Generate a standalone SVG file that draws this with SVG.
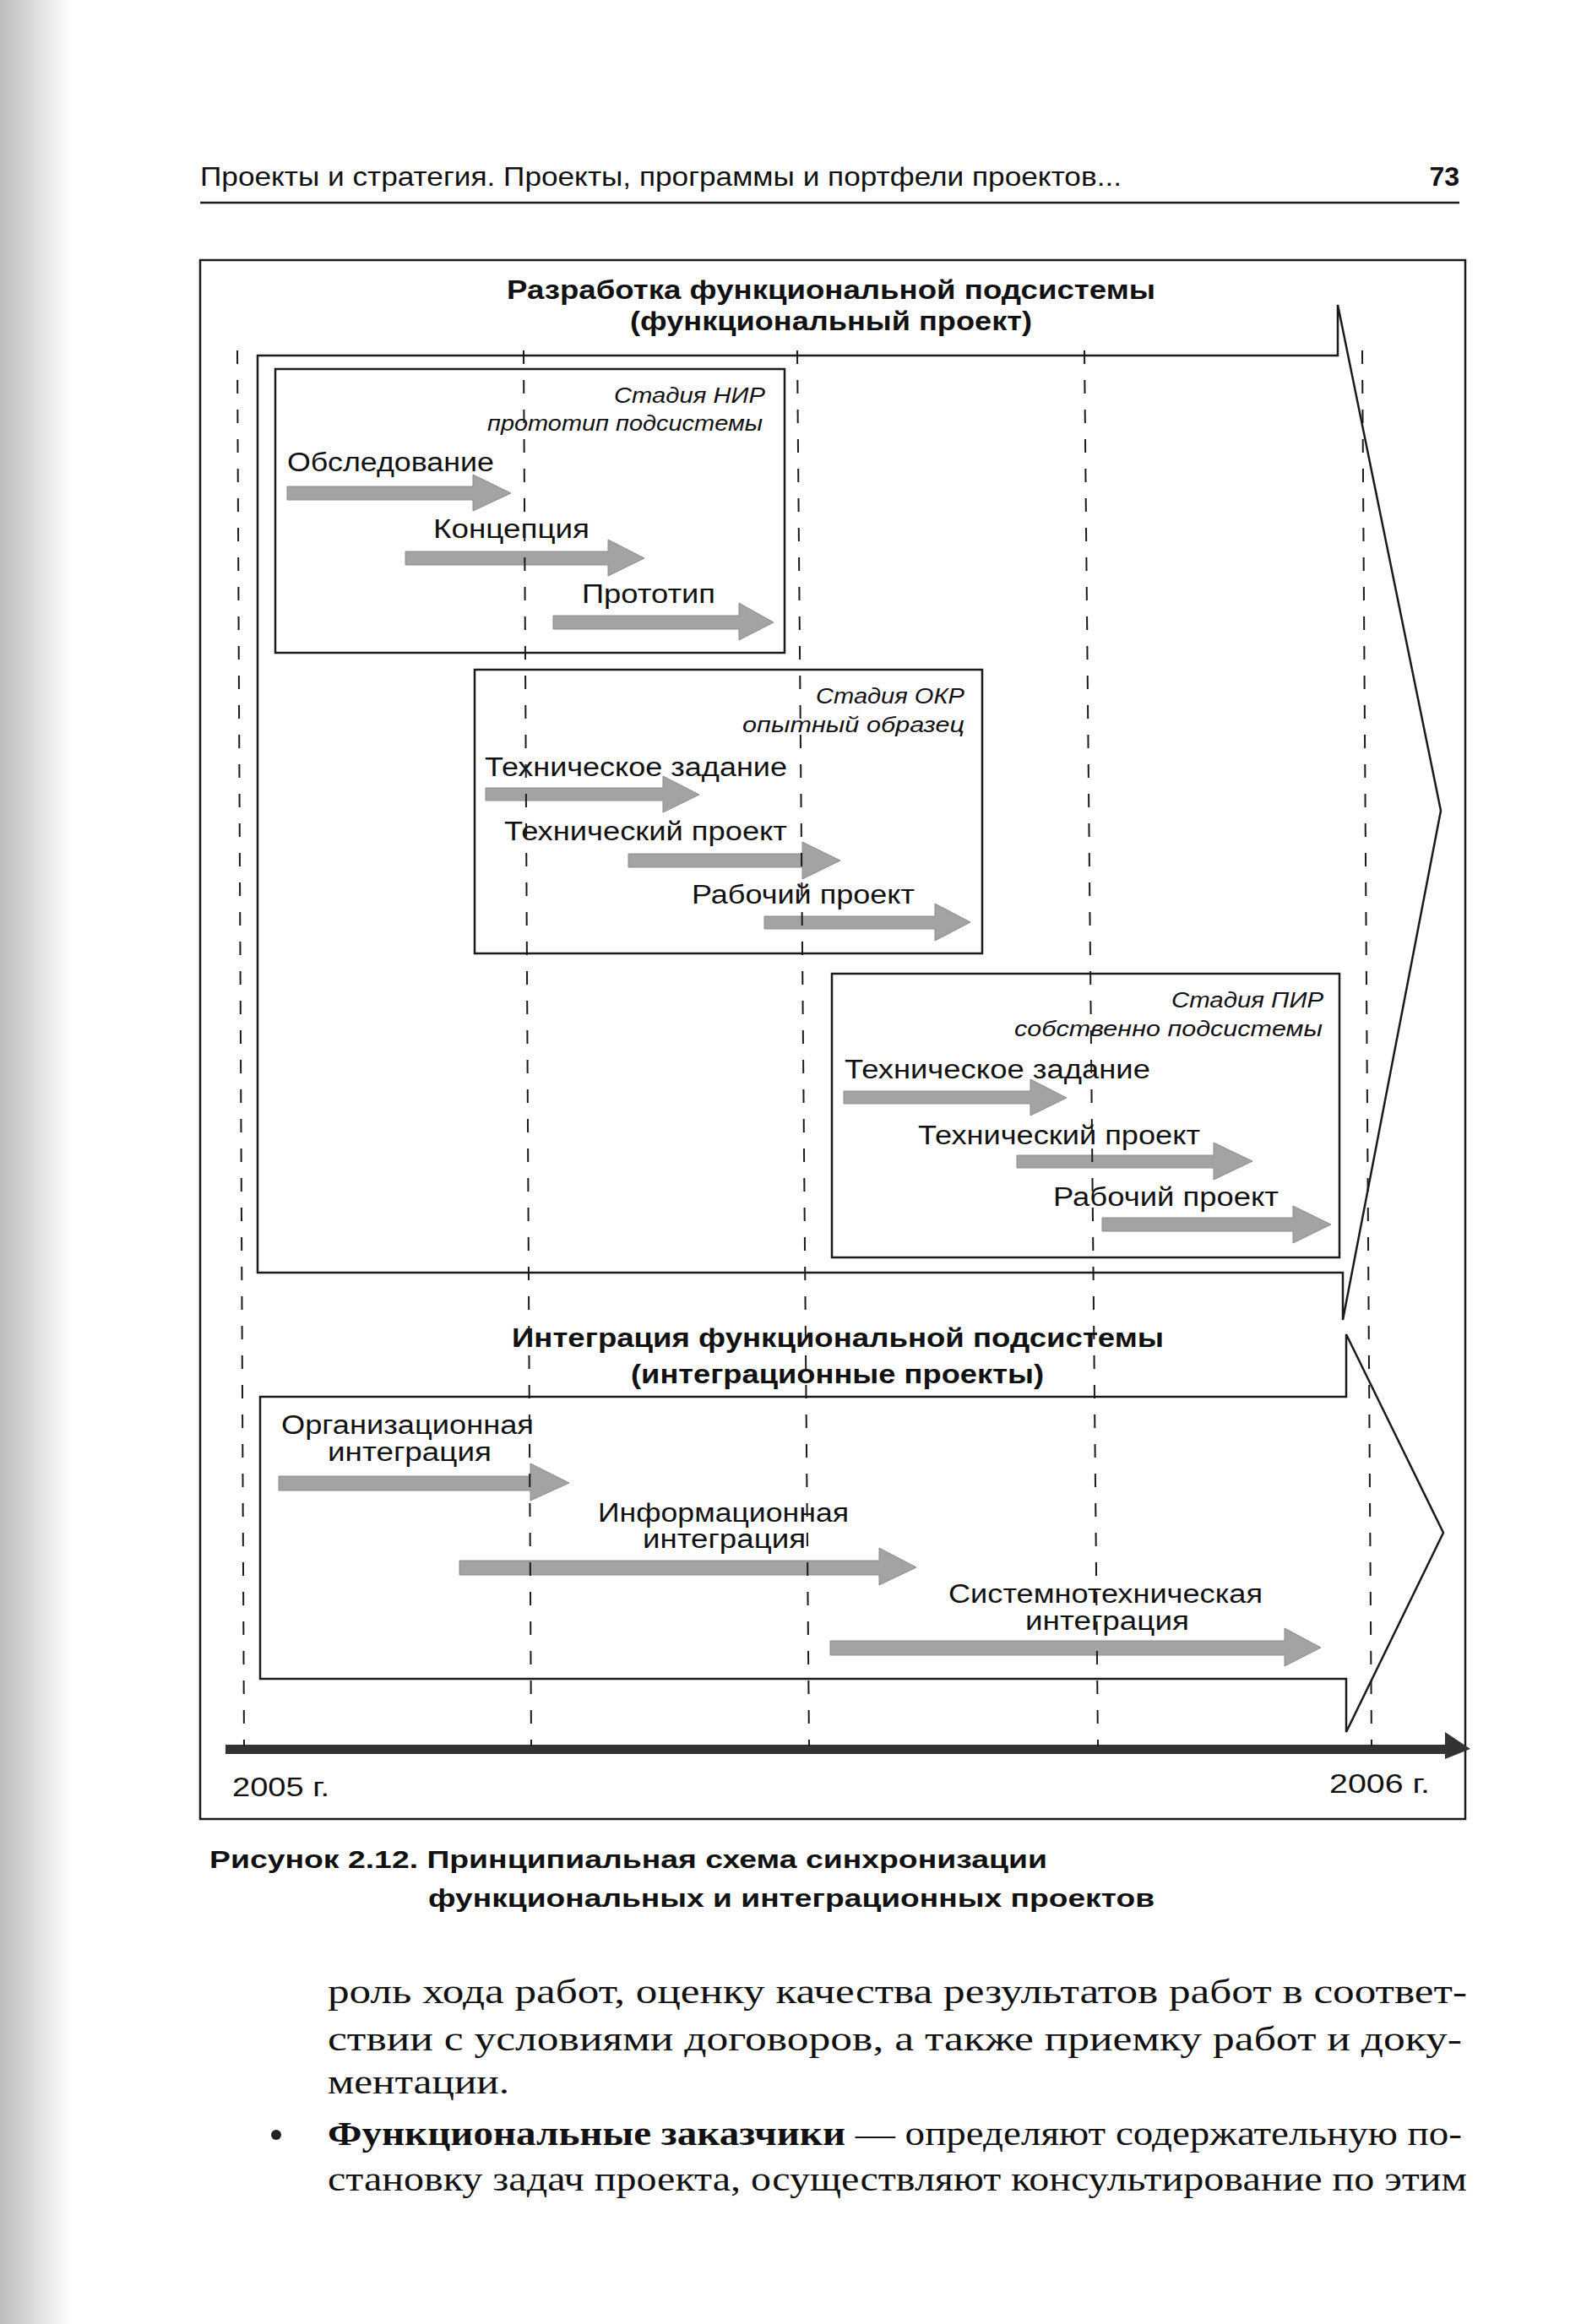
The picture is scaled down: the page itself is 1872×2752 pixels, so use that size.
<svg xmlns="http://www.w3.org/2000/svg" width="1872" height="2752" viewBox="0 0 1872 2752">
<defs>
<linearGradient id="edge" x1="0" y1="0" x2="1" y2="0">
<stop offset="0" stop-color="#bdbdbd"/>
<stop offset="0.5" stop-color="#dedede"/>
<stop offset="1" stop-color="#ffffff"/>
</linearGradient>
<style>
.ln{fill:none;stroke:#1a1a1a;stroke-width:2.5}
.box{fill:none;stroke:#1a1a1a;stroke-width:2.5}
.ga{fill:#a3a3a3;stroke:#8c8c8c;stroke-width:1}
.grid{stroke:#1a1a1a;stroke-width:2;stroke-dasharray:16 19;fill:none}
.t{font-family:"Liberation Sans",Arial,sans-serif;font-size:31px;fill:#111}
.it{font-family:"Liberation Sans",Arial,sans-serif;font-size:26px;font-style:italic;fill:#111}
.bt{font-family:"Liberation Sans",Arial,sans-serif;font-size:32px;font-weight:bold;fill:#111}
.cap{font-family:"Liberation Sans",Arial,sans-serif;font-size:30px;font-weight:bold;fill:#111}
.hd{font-family:"Liberation Sans",Arial,sans-serif;font-size:32px;fill:#111}
.body{font-family:"Liberation Serif","Times New Roman",serif;font-size:39px;fill:#111}
</style>
</defs>
<rect width="1872" height="2752" fill="#ffffff"/>
<rect x="0" y="0" width="85" height="2752" fill="url(#edge)"/>

<g id="page-header">
<text class="hd" x="237" y="220" textLength="1091" lengthAdjust="spacingAndGlyphs">Проекты и стратегия. Проекты, программы и портфели проектов...</text>
<text class="bt" x="1728" y="220" text-anchor="end" font-size="34">73</text>
<line class="ln" x1="237" y1="240" x2="1728" y2="240"/>
</g>

<g id="figure-frame">
<rect class="box" x="237" y="308" width="1498" height="1846"/>
</g>

<g id="functional-project">
<path class="ln" d="M305 421 H1584 V361 L1706 960 L1590 1563 V1507 H305 Z"/>
<text class="bt" x="600" y="354" textLength="768" lengthAdjust="spacingAndGlyphs">Разработка функциональной подсистемы</text>
<text class="bt" x="746" y="391" textLength="476" lengthAdjust="spacingAndGlyphs">(функциональный проект)</text>
</g>

<g id="stage-nir">
<rect class="box" x="326" y="437" width="603" height="336"/>
<text class="it" x="727" y="477" textLength="179" lengthAdjust="spacingAndGlyphs">Стадия НИР</text>
<text class="it" x="577" y="510" textLength="326" lengthAdjust="spacingAndGlyphs">прототип подсистемы</text>
<path class="ga" d="M340 576 H560 V562 L605 584 L560 605 V592 H340 Z"/>
<text class="t" x="340" y="558" textLength="245" lengthAdjust="spacingAndGlyphs">Обследование</text>
<path class="ga" d="M480 653 H720 V639 L763 661 L720 682 V669 H480 Z"/>
<text class="t" x="513" y="637" textLength="185" lengthAdjust="spacingAndGlyphs">Концепция</text>
<path class="ga" d="M655 729 H875 V714 L916 737 L875 758 V745 H655 Z"/>
<text class="t" x="689" y="714" textLength="158" lengthAdjust="spacingAndGlyphs">Прототип</text>
</g>

<g id="stage-okr">
<rect class="box" x="562" y="793" width="601" height="336"/>
<text class="it" x="966" y="833" textLength="176" lengthAdjust="spacingAndGlyphs">Стадия ОКР</text>
<text class="it" x="879" y="867" textLength="263" lengthAdjust="spacingAndGlyphs">опытный образец</text>
<path class="ga" d="M575 933 H785 V919 L828 941 L785 962 V948 H575 Z"/>
<text class="t" x="574" y="919" textLength="358" lengthAdjust="spacingAndGlyphs">Техническое задание</text>
<path class="ga" d="M744 1011 H950 V997 L995 1019 L950 1041 V1027 H744 Z"/>
<text class="t" x="597" y="995" textLength="335" lengthAdjust="spacingAndGlyphs">Технический проект</text>
<path class="ga" d="M905 1085 H1107 V1070 L1149 1092 L1107 1114 V1100 H905 Z"/>
<text class="t" x="819" y="1070" textLength="264" lengthAdjust="spacingAndGlyphs">Рабочий проект</text>
</g>

<g id="stage-pir">
<rect class="box" x="985" y="1153" width="601" height="336"/>
<text class="it" x="1387" y="1193" textLength="180" lengthAdjust="spacingAndGlyphs">Стадия ПИР</text>
<text class="it" x="1201" y="1227" textLength="365" lengthAdjust="spacingAndGlyphs">собственно подсистемы</text>
<path class="ga" d="M999 1292 H1220 V1278 L1263 1300 L1220 1321 V1307 H999 Z"/>
<text class="t" x="1000" y="1277" textLength="362" lengthAdjust="spacingAndGlyphs">Техническое задание</text>
<path class="ga" d="M1204 1368 H1437 V1353 L1483 1375 L1437 1397 V1383 H1204 Z"/>
<text class="t" x="1087" y="1355" textLength="334" lengthAdjust="spacingAndGlyphs">Технический проект</text>
<path class="ga" d="M1305 1442 H1531 V1428 L1576 1450 L1531 1472 V1458 H1305 Z"/>
<text class="t" x="1247" y="1428" textLength="267" lengthAdjust="spacingAndGlyphs">Рабочий проект</text>
</g>

<g id="integration-project">
<text class="bt" x="606" y="1595" textLength="772" lengthAdjust="spacingAndGlyphs">Интеграция функциональной подсистемы</text>
<text class="bt" x="747" y="1638" textLength="489" lengthAdjust="spacingAndGlyphs">(интеграционные проекты)</text>
<path class="ln" d="M308 1654 H1594 V1580 L1709 1815 L1594 2051 V1988 H308 Z"/>
</g>

<g id="integration-org">
<path class="ga" d="M330 1748 H628 V1733 L674 1756 L628 1777 V1765 H330 Z"/>
<text class="t" x="333" y="1698" textLength="299" lengthAdjust="spacingAndGlyphs">Организационная</text>
<text class="t" x="388" y="1730" textLength="194" lengthAdjust="spacingAndGlyphs">интеграция</text>
</g>
<g id="integration-info">
<path class="ga" d="M544 1848 H1041 V1833 L1085 1856 L1041 1877 V1865 H544 Z"/>
<text class="t" x="708" y="1802" textLength="297" lengthAdjust="spacingAndGlyphs">Информационная</text>
<text class="t" x="761" y="1833" textLength="193" lengthAdjust="spacingAndGlyphs">интеграция</text>
</g>
<g id="integration-sys">
<path class="ga" d="M983 1943 H1521 V1928 L1564 1951 L1521 1973 V1960 H983 Z"/>
<text class="t" x="1123" y="1898" textLength="372" lengthAdjust="spacingAndGlyphs">Системнотехническая</text>
<text class="t" x="1214" y="1930" textLength="194" lengthAdjust="spacingAndGlyphs">интеграция</text>
</g>

<g id="timeline">
<path d="M267 2066 H1711 V2051 L1741 2071 L1711 2083 V2077 H267 Z" fill="#333"/>
<text class="t" x="275" y="2127" font-size="32" textLength="115" lengthAdjust="spacingAndGlyphs">2005 г.</text>
<text class="t" x="1574" y="2123" font-size="32" textLength="119" lengthAdjust="spacingAndGlyphs">2006 г.</text>
</g>

<g id="connectors">
<line class="grid" x1="281" y1="415" x2="289" y2="2068"/>
<line class="grid" x1="620" y1="415" x2="629" y2="2068"/>
<line class="grid" x1="944" y1="415" x2="958" y2="2068"/>
<line class="grid" x1="1284" y1="415" x2="1300" y2="2068"/>
<line class="grid" x1="1613" y1="415" x2="1624" y2="2068"/>
</g>

<g id="caption">
<text class="cap" x="248" y="2212" textLength="992" lengthAdjust="spacingAndGlyphs">Рисунок 2.12. Принципиальная схема синхронизации</text>
<text class="cap" x="507" y="2258" textLength="860" lengthAdjust="spacingAndGlyphs">функциональных и интеграционных проектов</text>
</g>

<g id="body-text">
<text class="body" x="388" y="2372" textLength="1349" lengthAdjust="spacingAndGlyphs">роль хода работ, оценку качества результатов работ в соответ-</text>
<text class="body" x="388" y="2428" textLength="1343" lengthAdjust="spacingAndGlyphs">ствии с условиями договоров, а также приемку работ и доку-</text>
<text class="body" x="388" y="2479" textLength="215" lengthAdjust="spacingAndGlyphs">ментации.</text>
<circle cx="327" cy="2528" r="6" fill="#222"/>
<text class="body" x="388" y="2540" textLength="1343" lengthAdjust="spacingAndGlyphs"><tspan font-weight="bold">Функциональные заказчики</tspan> — определяют содержательную по-</text>
<text class="body" x="388" y="2594" textLength="1349" lengthAdjust="spacingAndGlyphs">становку задач проекта, осуществляют консультирование по этим</text>
</g>
</svg>
